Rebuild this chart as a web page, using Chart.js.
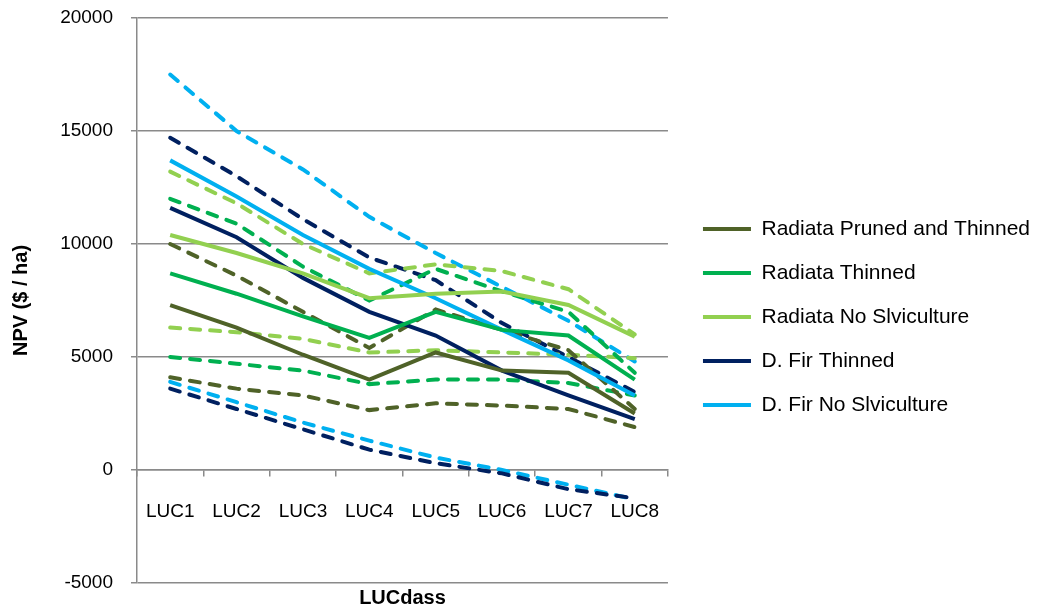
<!DOCTYPE html>
<html>
<head>
<meta charset="utf-8">
<script src="https://cdn.jsdelivr.net/npm/chart.js@4.4.0/dist/chart.umd.min.js"></script>
<style>
  html, body { margin: 0; padding: 0; background: #fff; }
  #wrap { width: 1040px; height: 616px; position: relative; }
</style>
</head>
<body>
<div id="wrap"><canvas id="npv-chart"></canvas></div>
<script>
// categories and y ticks
var lucClasses = ['LUC1', 'LUC2', 'LUC3', 'LUC4', 'LUC5', 'LUC6', 'LUC7', 'LUC8'];
var yTicks = [-5000, 0, 5000, 10000, 15000, 20000];

// NPV ($/ha) - solid = expected, high/low = dashed range
var rptMid  = [7300, 6300, 5100, 4000, 5200, 4400, 4300, 2500];
var rptHigh = [10000, 8600, 7000, 5400, 7100, 6200, 5300, 2700];
var rptLow  = [4100, 3600, 3300, 2650, 2950, 2850, 2700, 1900];

var rtMid  = [8700, 7800, 6800, 5850, 7000, 6200, 5950, 4000];
var rtHigh = [12000, 10900, 9000, 7500, 8900, 7900, 7000, 4300];
var rtLow  = [5000, 4700, 4400, 3800, 4000, 4000, 3850, 3300];

var rnsMid  = [10400, 9600, 8700, 7600, 7800, 7900, 7300, 5900];
var rnsHigh = [13200, 11800, 10000, 8700, 9100, 8800, 8000, 6000];
var rnsLow  = [6300, 6100, 5800, 5200, 5300, 5200, 5100, 4950];

var dftMid  = [11600, 10300, 8500, 7000, 5950, 4400, 3300, 2250];
var dftHigh = [14700, 13000, 11100, 9400, 8400, 6500, 5000, 3450];
var dftLow  = [3600, 2700, 1800, 900, 300, -150, -850, -1250];

var dfnsMid  = [13700, 12100, 10400, 8900, 7600, 6200, 4850, 3300];
var dfnsHigh = [17500, 15000, 13300, 11200, 9600, 8100, 6600, 4800];
var dfnsLow  = [3900, 3000, 2100, 1300, 550, 0, -650, -1300];

var seriesNames = ['Radiata Pruned and Thinned', 'Radiata Thinned', 'Radiata No Slviculture', 'D. Fir Thinned', 'D. Fir No Slviculture'];
var seriesColors = ['#4F6228', '#00B050', '#92D050', '#002060', '#00B0F0'];

var fontFamily = "'Liberation Sans', Arial, sans-serif";
var gridColor = '#8a8a8a';

function solid(i, values) {
	return {
		label: seriesNames[i],
		data: values,
		borderColor: seriesColors[i],
		backgroundColor: seriesColors[i],
		borderWidth: 4,
		pointRadius: 0,
		tension: 0,
		fill: false
	};
}

function dashed(i, values, tag) {
	return {
		label: seriesNames[i] + ' ' + tag,
		data: values,
		borderColor: seriesColors[i],
		backgroundColor: seriesColors[i],
		borderWidth: 4,
		borderDash: [10, 10],
		borderCapStyle: 'round',
		pointRadius: 0,
		tension: 0,
		fill: false,
		isRange: true
	};
}

var datasets = [
	solid(0, rptMid), solid(1, rtMid), solid(2, rnsMid), solid(3, dftMid), solid(4, dfnsMid),
	dashed(0, rptHigh, 'high'), dashed(0, rptLow, 'low'),
	dashed(1, rtHigh, 'high'), dashed(1, rtLow, 'low'),
	dashed(2, rnsHigh, 'high'), dashed(2, rnsLow, 'low'),
	dashed(3, dftHigh, 'high'), dashed(3, dftLow, 'low'),
	dashed(4, dfnsHigh, 'high'), dashed(4, dfnsLow, 'low')
];

new Chart('npv-chart', {
	type: 'line',
	data: {
		labels: lucClasses,
		datasets: datasets
	},
	options: {
		responsive: true,
		maintainAspectRatio: false,
		animation: false,
		devicePixelRatio: 1,
		layout: { padding: { top: 18, right: 0, bottom: 0, left: 0 } },
		plugins: {
			legend: {
				display: true,
				position: 'right',
				maxWidth: 400,
				labels: {
					filter: function (item, data) {
						return !data.datasets[item.datasetIndex].isRange;
					},
					usePointStyle: true,
					pointStyle: 'line',
					pointStyleWidth: 48,
					boxHeight: 21,
					padding: 23,
					color: '#000',
					font: { family: fontFamily, size: 21 }
				}
			},
			tooltip: { enabled: false }
		},
		scales: {
			x: {
				type: 'category',
				axis: 'x',
				position: { y: 0 },
				offset: true,
				grid: {
					display: true,
					offset: true,
					drawOnChartArea: false,
					drawTicks: true,
					tickLength: 6,
					color: gridColor,
					lineWidth: 1.5
				},
				border: { display: true, color: gridColor, width: 1.5 },
				ticks: {
					color: '#000',
					padding: 24,
					maxRotation: 0,
					autoSkip: false,
					font: { family: fontFamily, size: 19 }
				}
			},
			xTitle: {
				type: 'category',
				axis: 'x',
				position: 'bottom',
				grid: { display: false, drawTicks: false },
				border: { display: false },
				ticks: { display: false },
				title: {
					display: true,
					text: 'LUCdass',
					color: '#000',
					padding: { top: 3, bottom: 6 },
					font: { family: fontFamily, size: 20, weight: 'bold' }
				}
			},
			y: {
				type: 'linear',
				position: 'left',
				min: -5000,
				max: 20000,
				afterBuildTicks: function (axis) {
					axis.ticks = yTicks.map(function (v) { return { value: v }; });
				},
				afterFit: function (axis) {
					axis.width = 137;
					axis.paddingTop = 0;
					axis.paddingBottom = 0;
				},
				grid: {
					color: gridColor,
					lineWidth: 1.5,
					drawTicks: true,
					tickLength: 6
				},
				border: { display: true, color: gridColor, width: 1.5 },
				ticks: {
					color: '#000',
					padding: 18,
					font: { family: fontFamily, size: 19 },
					callback: function (value) { return String(value); }
				},
				title: {
					display: true,
					text: 'NPV ($ / ha)',
					color: '#000',
					padding: { top: 9, bottom: 0 },
					font: { family: fontFamily, size: 20, weight: 'bold' }
				}
			},
			gap: {
				type: 'linear',
				position: 'right',
				grid: { display: false, drawTicks: false },
				border: { display: false },
				ticks: { display: false },
				afterFit: function (axis) {
					axis.width = 12;
				}
			}
		}
	}
});
</script>
</body>
</html>
